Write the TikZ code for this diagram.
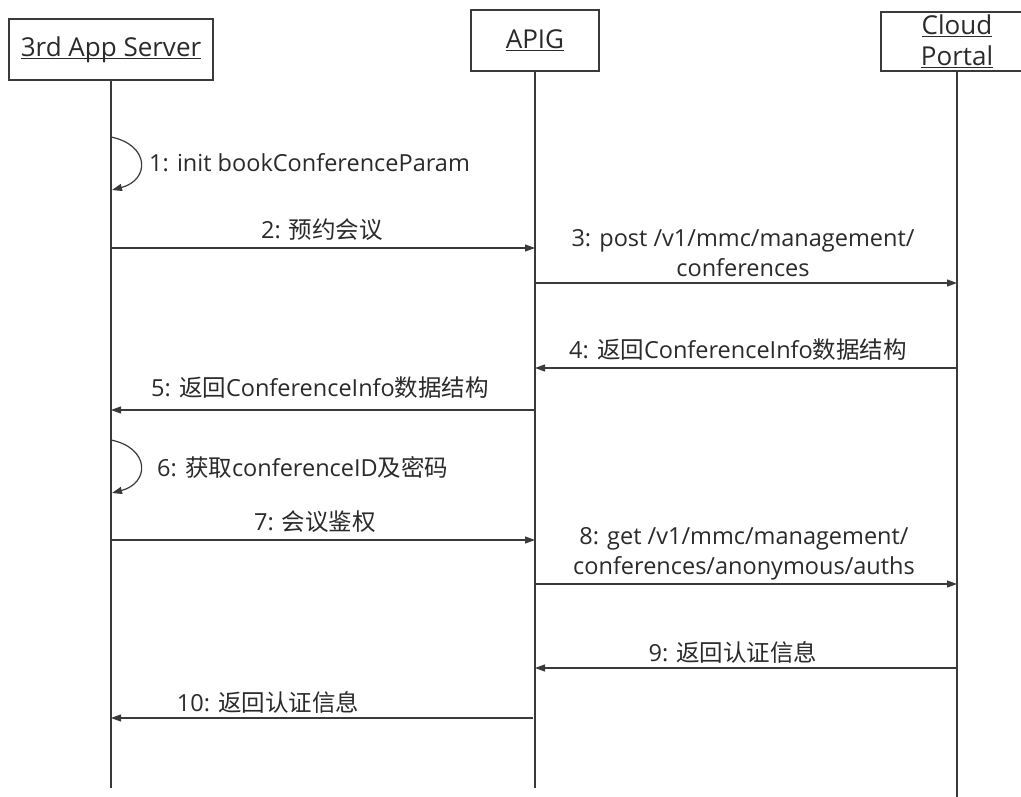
\documentclass[tikz,border=0pt]{standalone}
\usepackage{fontspec}
\setmainfont{Open Sans}
\newfontfamily\cjk{Noto Sans CJK SC}
\usetikzlibrary{arrows.meta}
\newcommand\myul[1]{\setbox0\hbox{#1}\rlap{\rule[-2.5pt]{\wd0}{1.2pt}}\box0}
\definecolor{linec}{HTML}{3A3A3A}
\definecolor{textc}{HTML}{2A2A2A}
\begin{document}
\begin{tikzpicture}[x=1pt,y=-1pt,
  actor/.style={draw=linec, line width=1.2pt, rectangle, inner sep=0pt, font=\fontsize{26}{30}\selectfont, text=textc, align=center},
  life/.style={draw=linec, line width=1.2pt},
  msg/.style={draw=linec, line width=1.2pt, -{Triangle[length=10pt,width=7pt]}},
  lbl/.style={font=\fontsize{23.5}{30}\selectfont, text=textc, inner sep=0pt, align=center}]
\clip (0,0) rectangle (1021,797);
\fill[white] (0,0) rectangle (1021,797);
% actors
\node[actor, minimum width=204pt, minimum height=61pt] (srv) at (111,49.5) {\myul{3rd App Server}};
\node[actor, minimum width=128pt, minimum height=61pt] (apig) at (535,40.5) {\myul{APIG}};
\node[actor, minimum width=152pt, minimum height=59pt] (cp) at (957,41.5) {\raisebox{-2pt}{\myul{Cloud}}\\\raisebox{-2.5pt}{\myul{Portal}}};
% lifeline ends
\coordinate (srvE) at (111,788);
\coordinate (apigE) at (535,788);
\coordinate (cpE) at (957,797);
\draw[life] (srv.south) -- (srvE);
\draw[life] (apig.south) -- (apigE);
\draw[life] (cp.south) -- (cpE);
% message points
\coordinate (s1a) at (111,137); \coordinate (s1b) at (112,190);
\coordinate (s2) at (111,248); \coordinate (a2) at (535,248);
\coordinate (a3) at (535,283); \coordinate (c3) at (957,283);
\coordinate (c4) at (957,368); \coordinate (a4) at (535,368);
\coordinate (a5) at (535,410); \coordinate (s5) at (111,410);
\coordinate (s6a) at (111,440); \coordinate (s6b) at (112,493);
\coordinate (s7) at (111,540); \coordinate (a7) at (535,540);
\coordinate (a8) at (535,584); \coordinate (c8) at (957,584);
\coordinate (c9) at (957,668); \coordinate (a9) at (535,668);
\coordinate (a10) at (533,718); \coordinate (s10) at (111,718);
% messages
\draw[msg] (s1a) .. controls (150,145) and (150,180) .. (s1b);
\node[lbl, anchor=west] (l1) at (149,163) {1: init bookConferenceParam};
\draw[msg] (s2) -- (a2);
\node[lbl] (l2) at (322,230) {2: {\cjk 预约会议}};
\draw[msg] (a3) -- (c3);
\node[lbl] (l3) at (743,253) {3: post /v1/mmc/management/\\conferences};
\draw[msg] (c4) -- (a4);
\node[lbl] (l4) at (738,350) {4: {\cjk 返回}ConferenceInfo{\cjk 数据结构}};
\draw[msg] (a5) -- (s5);
\node[lbl] (l5) at (320,388) {5: {\cjk 返回}ConferenceInfo{\cjk 数据结构}};
\draw[msg] (s6a) .. controls (150,448) and (150,483) .. (s6b);
\node[lbl, anchor=west] (l6) at (157,467) {6: {\cjk 获取}conferenceID{\cjk 及密码}};
\draw[msg] (s7) -- (a7);
\node[lbl] (l7) at (315,522) {7: {\cjk 会议鉴权}};
\draw[msg] (a8) -- (c8);
\node[lbl] (l8) at (744,554) {8: get /v1/mmc/management/\\conferences/anonymous/auths};
\draw[msg] (c9) -- (a9);
\node[lbl] (l9) at (733,652) {9: {\cjk 返回认证信息}};
\draw[msg] (a10) -- (s10);
\node[lbl] (l10) at (268,702) {10: {\cjk 返回认证信息}};
\end{tikzpicture}
\end{document}
